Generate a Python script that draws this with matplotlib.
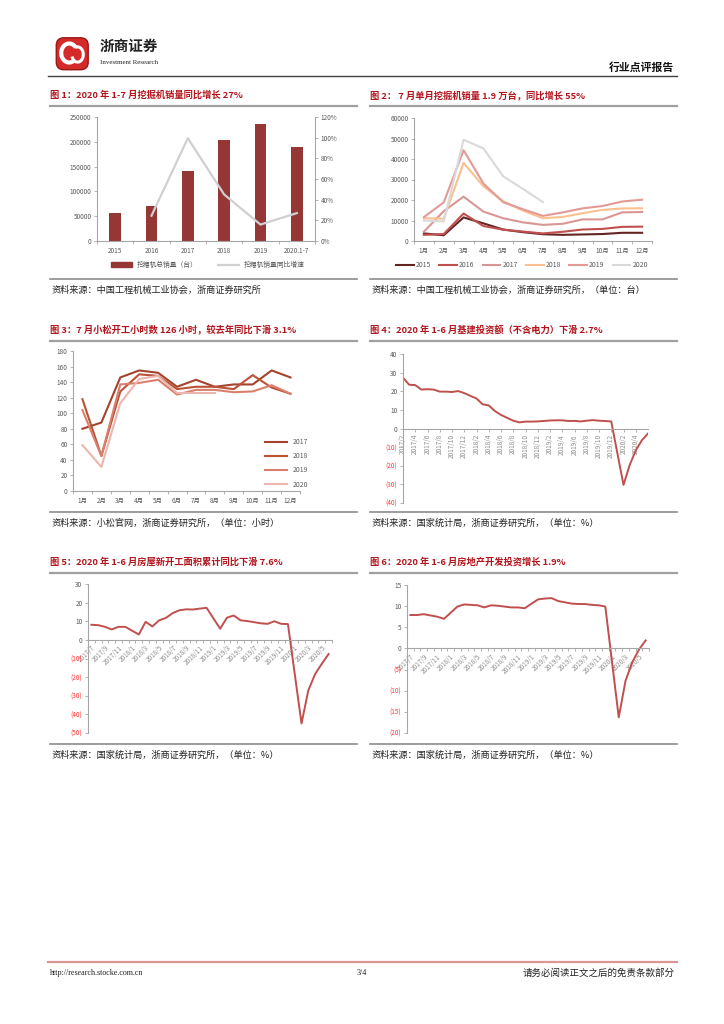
import numpy as np
import matplotlib
matplotlib.use("Agg")
import matplotlib.pyplot as plt
from matplotlib.lines import Line2D
from matplotlib.patches import Patch, FancyBboxPatch, Arc

plt.rcParams["font.family"] = ["Noto Sans CJK SC", "DejaVu Sans"]

W, H = 724, 1024

# ---- chart 1: annual excavator sales ----
years = ["2015", "2016", "2017", "2018", "2019", "2020.1-7"]
sales_total = [56500, 70300, 140300, 203400, 235700, 189000]
sales_growth = [None, 0.245, 0.995, 0.45, 0.159, 0.27]

# ---- chart 2: monthly excavator sales by year ----
months = ["1月", "2月", "3月", "4月", "5月", "6月", "7月", "8月", "9月", "10月", "11月", "12月"]
sales_2015 = [3700, 2800, 11500, 8600, 5600, 4300, 3300, 3000, 3200, 3400, 4000, 4000]
sales_2016 = [3000, 3400, 13400, 7300, 5500, 4600, 3700, 4500, 5600, 5900, 6900, 7000]
sales_2017 = [4570, 14560, 21630, 14340, 11080, 9090, 7860, 8400, 10550, 10530, 13960, 14150]
sales_2018 = [11100, 10900, 38080, 26720, 19380, 14770, 11110, 11730, 13550, 15180, 15880, 15960]
sales_2019 = [11660, 18860, 44280, 28030, 18880, 15470, 12260, 13940, 15920, 17060, 19280, 20160]
sales_2020 = [9980, 9550, 49410, 45150, 31540, 25370, 19000]

# ---- chart 3: Komatsu working hours ----
hours_2017 = [80, 88, 146, 155, 152, 134, 143, 134, 137, 137, 155, 146]
hours_2018 = [118, 45, 128, 150, 148, 131, 134, 134, 131, 149, 133, 125]
hours_2019 = [104, 45, 137, 139, 143, 124, 130, 130, 127, 128, 136, 125]
hours_2020 = [59, 31, 113, 144, 148, 126, 126, 126]

# ---- chart 4: infrastructure investment YoY (%), monthly from 2017/2 ----
infra_labels = ["2017/2", "2017/4", "2017/6", "2017/8", "2017/10", "2017/12",
                "2018/2", "2018/4", "2018/6", "2018/8", "2018/10", "2018/12",
                "2019/2", "2019/4", "2019/6", "2019/8", "2019/10", "2019/12",
                "2020/2", "2020/4"]
infra_yoy = [27.3, 23.5, 23.3, 20.9, 21.1, 20.9, 19.8, 19.8, 19.6, 20.1, 19.0,
             None, 16.1, 13.0, 12.4, 9.4, 7.3, 5.7, 4.2, 3.3, 3.7, 3.7, 3.8,
             None, 4.3, 4.4, 4.4, 4.0, 4.1, 3.8, 4.2, 4.5, 4.2, 4.0, 3.8,
             None, -30.3, -19.7, -11.8, -6.3, -2.7]

# ---- charts 5 & 6: monthly from 2017/7 ----
re_labels = ["2017/7", "2017/9", "2017/11", "2018/1", "2018/3", "2018/5", "2018/7",
             "2018/9", "2018/11", "2019/1", "2019/3", "2019/5", "2019/7", "2019/9",
             "2019/11", "2020/1", "2020/3", "2020/5"]
new_starts_yoy = [8.1, 7.9, 7.0, 5.6, 7.0, 7.0,
                  None, 2.9, 9.7, 7.2, 10.5, 11.8, 14.4, 15.9, 16.4, 16.3, 16.8, 17.2,
                  None, 6.0, 11.9, 13.1, 10.5, 10.1, 9.5, 8.9, 8.6, 10.0, 8.6, 8.5,
                  None, -44.9, -27.2, -18.4, -12.8, -7.6]
re_invest_yoy = [7.9, 7.9, 8.1, 7.8, 7.5, 7.0,
                 None, 9.9, 10.4, 10.3, 10.2, 9.7, 10.2, 10.1, 9.9, 9.7, 9.7, 9.5,
                 None, 11.6, 11.8, 11.9, 11.2, 10.9, 10.6, 10.5, 10.5, 10.3, 10.2, 9.9,
                 None, -16.3, -7.7, -3.3, -0.3, 1.9]

RED_T = "#b3141c"
GRAY_T = "#595959"
AX_C = "#a6a6a6"


def add_ax(fig, x0, y0, x1, y1):
    return fig.add_axes([x0 / W, 1 - y1 / H, (x1 - x0) / W, (y1 - y0) / H])


def ftext(fig, x, y, s, **kw):
    fig.text(x / W, 1 - y / H, s, **kw)


def hline(fig, x0, x1, y, color, lw):
    fig.add_artist(Line2D([x0 / W, x1 / W], [1 - y / H, 1 - y / H],
                          transform=fig.transFigure, color=color, lw=lw))


def panel_frame(fig, x0, x1, y_title, y_sep, title, source):
    ftext(fig, x0, y_title, title, fontsize=6.7, fontweight="bold", color=RED_T,
          va="center", ha="left")
    hline(fig, x0, x1, y_title + 11, "#a0a0a0", 1.6)
    hline(fig, x0, x1, y_sep, "#8c8c8c", 1.2)
    ftext(fig, x0 + 2, y_sep + 11, source, fontsize=6.6, color="#222222",
          va="center", ha="left")


def style_axes(ax):
    for s in ["top", "right"]:
        ax.spines[s].set_visible(False)
    for s in ["left", "bottom"]:
        ax.spines[s].set_color(AX_C)
        ax.spines[s].set_linewidth(0.8)
    ax.tick_params(axis="both", which="both", labelsize=4.6, colors=AX_C,
                   labelcolor=GRAY_T, length=2, width=0.6, pad=2)
    ax.set_facecolor("none")


def series_xy(values):
    xs = [i for i, v in enumerate(values) if v is not None]
    ys = [v for v in values if v is not None]
    return xs, ys


def paren_labels(ax, ticks):
    ax.set_yticks(ticks)
    ax.set_yticklabels([f"({abs(int(t))})" if t < 0 else f"{int(t)}" for t in ticks])
    for tick, t in zip(ax.yaxis.get_major_ticks(), ticks):
        tick.label1.set_color("#ff3333" if t < 0 else GRAY_T)


fig = plt.figure(figsize=(W / 100, H / 100), dpi=100)

# ---------------- header ----------------
logo = add_ax(fig, 54, 34, 92, 72)
logo.set_xlim(0, 1)
logo.set_ylim(0, 1)
logo.axis("off")
logo.add_patch(FancyBboxPatch((0.12, 0.12), 0.72, 0.72, boxstyle="round,pad=0.06,rounding_size=0.2",
                              fc="#d52a2a", ec="#9c1616", lw=1))
logo.add_patch(Arc((0.40, 0.50), 0.42, 0.50, theta1=40, theta2=300, color="white", lw=3))
logo.add_patch(Arc((0.62, 0.46), 0.30, 0.40, theta1=200, theta2=110, color="white", lw=2.2))
ftext(fig, 100, 46, "浙商证券", fontsize=10.5, fontweight="bold", color="#222222", va="center")
ftext(fig, 100, 62, "Investment Research", fontsize=5, family="Liberation Serif",
      color="#222222", va="center")
ftext(fig, 674, 67, "行业点评报告", fontsize=7.8, fontweight="bold", color="#111111",
      va="center", ha="right")
hline(fig, 48, 677, 76, "#404040", 1.0)

# ---------------- chart 1 ----------------
panel_frame(fig, 50, 357, 95, 279, "图 1：2020 年 1-7 月挖掘机销量同比增长 27%",
            "资料来源：中国工程机械工业协会，浙商证券研究所")
ax1 = add_ax(fig, 97, 117, 315, 241)
x1 = np.arange(len(years))
ax1.bar(x1, sales_total, width=0.33, color="#953735", zorder=2)
ax1.set_xlim(-0.5, len(years) - 0.5)
ax1.set_ylim(0, 250000)
ax1.set_yticks(np.arange(0, 250001, 50000))
ax1.set_xticks(x1)
ax1.set_xticklabels(years)
ax1.set_xticks(np.arange(-0.5, len(years), 1), minor=True)
style_axes(ax1)
ax1.tick_params(axis="x", which="major", length=0, pad=4)
ax1b = ax1.twinx()
gx, gy = series_xy(sales_growth)
ax1b.plot(gx, gy, color="#d0d0d0", lw=1.6)
ax1b.set_ylim(0, 1.2)
ax1b.set_yticks(np.arange(0, 1.21, 0.2))
ax1b.set_yticklabels([f"{int(round(v * 100))}%" for v in np.arange(0, 1.21, 0.2)])
for s in ["top", "left", "bottom"]:
    ax1b.spines[s].set_visible(False)
ax1b.spines["right"].set_color(AX_C)
ax1b.spines["right"].set_linewidth(0.8)
ax1b.tick_params(labelsize=4.6, colors=AX_C, labelcolor=GRAY_T, length=2, width=0.6, pad=2)
fig.legend([Patch(color="#953735"), Line2D([0], [0], color="#d0d0d0", lw=1.6)],
           ["挖掘机总销量（台）", "挖掘机销量同比增速"], loc="center",
           bbox_to_anchor=(208 / W, 1 - 265 / H), ncol=2, frameon=False,
           prop={"size": 4.9}, handlelength=3, handleheight=0.6, columnspacing=3,
           labelcolor=GRAY_T)

# ---------------- chart 2 ----------------
panel_frame(fig, 370, 677, 95, 279, "图 2： 7 月单月挖掘机销量 1.9 万台，同比增长 55%",
            "资料来源：中国工程机械工业协会，浙商证券研究所，（单位：台）")
ax2 = add_ax(fig, 414, 118, 652, 241)
c2 = {"2015": "#632523", "2016": "#c0504d", "2017": "#da9694",
      "2018": "#fac08f", "2019": "#e39a95", "2020": "#d9d9d9"}
for name, vals in [("2015", sales_2015), ("2016", sales_2016), ("2017", sales_2017),
                   ("2018", sales_2018), ("2019", sales_2019), ("2020", sales_2020)]:
    ax2.plot(np.arange(len(vals)), vals, color=c2[name], lw=1.5, label=name)
ax2.set_xlim(-0.5, 11.5)
ax2.set_ylim(0, 60000)
ax2.set_yticks(np.arange(0, 60001, 10000))
ax2.set_xticks(np.arange(12))
ax2.set_xticklabels(months)
ax2.set_xticks(np.arange(-0.5, 12, 1), minor=True)
style_axes(ax2)
ax2.tick_params(axis="x", which="major", length=0, pad=4)
h2, l2 = ax2.get_legend_handles_labels()
fig.legend(h2, l2, loc="center", bbox_to_anchor=(522 / W, 1 - 265 / H), ncol=6,
           frameon=False, prop={"size": 4.9}, handlelength=2.6, columnspacing=1.2,
           handletextpad=0.3, labelcolor=GRAY_T)

# ---------------- chart 3 ----------------
panel_frame(fig, 50, 357, 330, 512, "图 3：7 月小松开工小时数 126 小时，较去年同比下滑 3.1%",
            "资料来源：小松官网，浙商证券研究所，（单位：小时）")
ax3 = add_ax(fig, 73, 351, 300, 491)
c3 = {"2017": "#a3432b", "2018": "#bb5237", "2019": "#d9806c", "2020": "#edb5ad"}
for name, vals in [("2017", hours_2017), ("2018", hours_2018),
                   ("2019", hours_2019), ("2020", hours_2020)]:
    ax3.plot(np.arange(len(vals)), vals, color=c3[name], lw=1.5, label=name)
ax3.set_xlim(-0.5, 11.5)
ax3.set_ylim(0, 180)
ax3.set_yticks(np.arange(0, 181, 20))
ax3.set_xticks(np.arange(12))
ax3.set_xticklabels(months)
ax3.set_xticks(np.arange(-0.5, 12, 1), minor=True)
style_axes(ax3)
ax3.tick_params(axis="x", which="major", length=0, pad=4)
ax3.legend(loc="upper left", bbox_to_anchor=(259 / W, 1 - 432 / H),
           bbox_transform=fig.transFigure, frameon=False, prop={"size": 4.9},
           handlelength=3.2, labelspacing=0.9, labelcolor=GRAY_T)

# ---------------- chart 4 ----------------
panel_frame(fig, 370, 677, 330, 512, "图 4：2020 年 1-6 月基建投资额（不含电力）下滑 2.7%",
            "资料来源：国家统计局，浙商证券研究所，（单位：%）")
ax4 = add_ax(fig, 403, 354, 648, 503)
xs, ys = series_xy(infra_yoy)
ax4.plot(xs, ys, color="#c0504d", lw=1.4)
ax4.set_xlim(0, len(infra_yoy) - 1)
ax4.set_ylim(-40, 40)
style_axes(ax4)
ax4.spines["bottom"].set_position(("data", 0))
paren_labels(ax4, list(range(-40, 41, 10)))
ax4.set_xticks(np.arange(0, 2 * len(infra_labels), 2))
ax4.set_xticklabels(infra_labels, rotation=90, ha="right", va="center",
                    rotation_mode="anchor", color="#8c8c8c")
ax4.tick_params(axis="x", length=2, pad=2)

# ---------------- chart 5 ----------------
panel_frame(fig, 50, 357, 562, 744, "图 5：2020 年 1-6 月房屋新开工面积累计同比下滑 7.6%",
            "资料来源：国家统计局，浙商证券研究所，（单位：%）")
ax5 = add_ax(fig, 88, 584, 332, 733)
xs, ys = series_xy(new_starts_yoy)
ax5.plot(xs, ys, color="#c0504d", lw=1.4)
ax5.set_xlim(-0.5, len(new_starts_yoy) - 0.5)
ax5.set_ylim(-50, 30)
style_axes(ax5)
ax5.spines["bottom"].set_position(("data", 0))
paren_labels(ax5, list(range(-50, 31, 10)))
ax5.set_xticks(np.arange(0, 2 * len(re_labels), 2))
ax5.set_xticklabels(re_labels, rotation=45, ha="right", va="top",
                    rotation_mode="anchor", color="#8c8c8c")
ax5.set_xticks(np.arange(-0.5, len(new_starts_yoy), 1), minor=True)
ax5.tick_params(axis="x", which="major", length=0, pad=3)

# ---------------- chart 6 ----------------
panel_frame(fig, 370, 677, 562, 744, "图 6：2020 年 1-6 月房地产开发投资增长 1.9%",
            "资料来源：国家统计局，浙商证券研究所，（单位：%）")
ax6 = add_ax(fig, 407, 585, 649, 733)
xs, ys = series_xy(re_invest_yoy)
ax6.plot(xs, ys, color="#c0504d", lw=1.4)
ax6.set_xlim(-0.5, len(re_invest_yoy) - 0.5)
ax6.set_ylim(-20, 15)
style_axes(ax6)
ax6.spines["bottom"].set_position(("data", 0))
paren_labels(ax6, list(range(-20, 16, 5)))
ax6.set_xticks(np.arange(0, 2 * len(re_labels), 2))
ax6.set_xticklabels(re_labels, rotation=45, ha="right", va="top",
                    rotation_mode="anchor", color="#8c8c8c")
ax6.set_xticks(np.arange(-0.5, len(re_invest_yoy), 1), minor=True)
ax6.tick_params(axis="x", which="major", length=0, pad=3)

# ---------------- footer ----------------
hline(fig, 48, 677, 962, "#d99694", 1.6)
ftext(fig, 50, 973, "http://research.stocke.com.cn", fontsize=5.8,
      family="Liberation Serif", color="#222222", va="center")
ftext(fig, 362, 973, "3/4", fontsize=5.8, family="Liberation Serif",
      color="#222222", va="center", ha="center")
ftext(fig, 675, 973, "请务必阅读正文之后的免责条款部分", fontsize=6.8, color="#222222",
      va="center", ha="right")

fig.savefig("out.png", dpi=100)
